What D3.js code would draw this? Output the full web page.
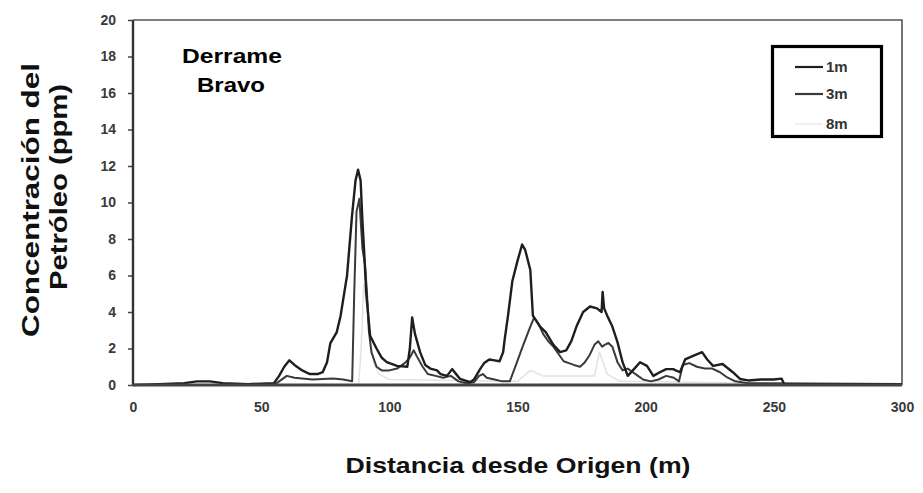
<!DOCTYPE html>
<html>
<head>
<meta charset="utf-8">
<script src="https://cdn.jsdelivr.net/npm/d3@7"></script>
<style>
  html, body { margin: 0; padding: 0; background: #fff; }
  svg { display: block; }
</style>
</head>
<body>
<svg id="chart" width="923" height="493"></svg>
<script>
// ---- data ----
const xTicks = [0, 50, 100, 150, 200, 250, 300];
const yTicks = [0, 2, 4, 6, 8, 10, 12, 14, 16, 18, 20];
const seriesNames = ["1m", "3m", "8m"];

const dist1m = [0, 10, 20, 25, 30, 35, 45, 55, 57, 59, 61, 63, 66, 69, 72, 74, 75.7, 77, 79.5, 81, 83.5, 85.4, 86.8, 87.8, 88.8, 89.5, 90.3, 91, 92.5, 95, 97, 99, 103, 107, 108, 108.9, 110, 112, 114, 116, 118.6, 120, 122.5, 124.5, 127.6, 131.5, 133, 135.4, 137, 139, 141, 143, 144.4, 145, 146.3, 148, 150, 151.8, 153, 155, 156, 158.8, 161, 164, 166.6, 169, 171, 173, 175.6, 178.3, 181, 182.8, 183.2, 183.8, 185, 187, 189, 191, 193, 195, 197.8, 200.5, 203, 205.5, 208, 210.7, 213.4, 215.4, 218.5, 222, 224, 226.3, 230, 234, 236.8, 240, 245, 250, 253, 254, 300];
const conc1m = [0, 0.05, 0.1, 0.2, 0.2, 0.1, 0.05, 0.1, 0.5, 1.0, 1.35, 1.1, 0.8, 0.6, 0.6, 0.7, 1.25, 2.3, 2.9, 3.8, 6.0, 9.2, 11.2, 11.8, 11.2, 9.0, 7.0, 5.0, 2.7, 2.0, 1.5, 1.25, 1.05, 1.0, 2.0, 3.7, 2.8, 1.8, 1.1, 0.9, 0.8, 0.6, 0.5, 0.87, 0.33, 0.15, 0.3, 0.87, 1.2, 1.4, 1.35, 1.3, 1.8, 2.5, 3.8, 5.7, 6.8, 7.7, 7.4, 6.3, 3.8, 3.2, 2.9, 2.2, 1.8, 1.9, 2.4, 3.2, 4.0, 4.3, 4.2, 4.0, 5.1, 4.2, 3.8, 3.2, 2.35, 1.25, 0.5, 0.8, 1.25, 1.05, 0.5, 0.7, 0.87, 0.87, 0.7, 1.4, 1.6, 1.8, 1.4, 1.05, 1.15, 0.7, 0.33, 0.25, 0.3, 0.3, 0.35, 0.05, 0.05];

const dist3m = [0, 55, 57, 60, 63, 70, 78, 82, 85.5, 86.3, 87.2, 88.3, 89.5, 90.5, 91.3, 92, 93, 95, 97, 100, 103, 106, 108, 109.5, 111, 113, 115, 118, 121, 124, 127, 130, 133, 135, 136.5, 138, 141, 144, 147, 149.8, 152, 155, 156.5, 158, 160, 162, 164, 166, 168, 170, 172, 174.4, 176, 178, 180, 181.5, 183, 184, 185.5, 187, 189, 191, 193, 195, 197, 199, 202, 205, 208, 211, 213, 214.5, 217, 220, 223, 226, 229, 232, 235, 240, 300];
const conc3m = [0, 0, 0.2, 0.5, 0.4, 0.3, 0.35, 0.3, 0.2, 5.0, 9.5, 10.2, 7.5, 6.6, 5.0, 3.0, 1.8, 1.0, 0.8, 0.8, 0.9, 1.2, 1.5, 1.9, 1.5, 1.0, 0.6, 0.5, 0.4, 0.5, 0.2, 0.1, 0.15, 0.5, 0.6, 0.4, 0.3, 0.2, 0.2, 1.25, 2.1, 3.2, 3.7, 3.4, 2.8, 2.4, 2.1, 1.7, 1.3, 1.2, 1.1, 1.0, 1.2, 1.6, 2.2, 2.4, 2.1, 2.2, 2.3, 2.1, 1.25, 0.8, 0.9, 0.7, 0.5, 0.3, 0.2, 0.3, 0.5, 0.4, 0.2, 1.1, 1.2, 1.0, 0.9, 0.9, 0.7, 0.4, 0.2, 0.1, 0.05];

const dist8m = [0, 88, 89, 90, 91, 92.5, 94, 96, 100, 150, 155, 160, 180, 182, 183, 185, 190, 300];
const conc8m = [0, 0, 2.0, 5.5, 4.5, 2.5, 1.2, 0.6, 0.3, 0.2, 0.8, 0.5, 0.5, 1.8, 1.4, 0.6, 0.2, 0];

const seriesDist = [dist1m, dist3m, dist8m];
const seriesConc = [conc1m, conc3m, conc8m];
const seriesColor = ["#1e1e1e", "#3a3a3a", "#e2e2e2"];
const seriesWidth = [2.4, 2.0, 1.5];

// ---- chart ----
const svg = d3.select("#chart");
const x = d3.scaleLinear().domain([0, 300]).range([133, 902]);
const y = d3.scaleLinear().domain([0, 20]).range([385, 20]);

// frame (top + right)
svg.append("path")
  .attr("d", `M${x(0)},${y(20)}H${x(300)}V${y(0)}`)
  .attr("fill", "none").attr("stroke", "#555").attr("stroke-width", 1.6);

// y axis
const yAxis = svg.append("g").attr("transform", `translate(${x(0)},0)`)
  .call(d3.axisLeft(y).tickValues(yTicks).tickSize(5).tickPadding(12));
yAxis.select(".domain").remove();
yAxis.selectAll(".tick line").attr("stroke", "#444").attr("stroke-width", 1.5);
yAxis.selectAll(".tick text")
  .attr("font-family", "'Liberation Sans', Arial, sans-serif")
  .attr("font-size", 14).attr("font-weight", "bold").attr("fill", "#3a3a3a");

// x axis
const xAxis = svg.append("g").attr("transform", `translate(0,${y(0)})`)
  .call(d3.axisBottom(x).tickValues(xTicks).tickSize(0).tickPadding(17));
xAxis.select(".domain").remove();
xAxis.selectAll(".tick text")
  .attr("font-family", "'Liberation Sans', Arial, sans-serif")
  .attr("font-size", 14).attr("font-weight", "bold").attr("fill", "#3a3a3a");

// series lines (light first so darker lines are on top)
const line = d3.line().x(d => x(d[0])).y(d => y(d[1])).curve(d3.curveLinear);
[2, 1, 0].forEach(i => {
  const pts = seriesDist[i].map((d, k) => [d, seriesConc[i][k]]);
  svg.append("path").datum(pts)
    .attr("d", line)
    .attr("fill", "none")
    .attr("stroke", seriesColor[i])
    .attr("stroke-width", seriesWidth[i])
    .attr("stroke-linejoin", "round");
});

// axis lines
svg.append("line").attr("x1", x(0)).attr("x2", x(0)).attr("y1", y(20)).attr("y2", y(0))
  .attr("stroke", "#333").attr("stroke-width", 2.4);
svg.append("line").attr("x1", x(0)).attr("x2", x(300)).attr("y1", y(0)).attr("y2", y(0))
  .attr("stroke", "#444").attr("stroke-width", 3);

// annotation
const ann = svg.append("g")
  .attr("font-family", "'Liberation Sans', Arial, sans-serif")
  .attr("font-weight", "bold").attr("fill", "#000").attr("text-anchor", "middle");
ann.append("text").attr("x", 232).attr("y", 63).attr("font-size", 21)
  .attr("textLength", 100).attr("lengthAdjust", "spacingAndGlyphs").text("Derrame");
ann.append("text").attr("x", 231).attr("y", 92).attr("font-size", 21)
  .attr("textLength", 68).attr("lengthAdjust", "spacingAndGlyphs").text("Bravo");

// legend
const leg = svg.append("g");
leg.append("rect").attr("x", 772.5).attr("y", 46.5).attr("width", 109).attr("height", 90)
  .attr("fill", "#fff").attr("stroke", "#000").attr("stroke-width", 3.2);
const legY = [67, 94, 124];
seriesNames.forEach((n, i) => {
  leg.append("line").attr("x1", 795).attr("x2", 823).attr("y1", legY[i]).attr("y2", legY[i])
    .attr("stroke", i === 2 ? "#f0f0f0" : seriesColor[i]).attr("stroke-width", 2.2);
  leg.append("text").attr("x", 826).attr("y", legY[i]).attr("dy", "0.36em")
    .attr("font-family", "'Liberation Sans', Arial, sans-serif")
    .attr("font-size", 15).attr("font-weight", "bold").attr("fill", "#333")
    .text(n);
});

// axis titles
const yt = svg.append("g")
  .attr("font-family", "'Liberation Sans', Arial, sans-serif")
  .attr("font-weight", "bold").attr("fill", "#111").attr("text-anchor", "middle");
yt.append("text").attr("transform", "translate(31,200) rotate(-90)").attr("dy", "0.36em")
  .attr("font-size", 23).attr("textLength", 274).attr("lengthAdjust", "spacingAndGlyphs")
  .text("Concentración del");
yt.append("text").attr("transform", "translate(59,187) rotate(-90)").attr("dy", "0.36em")
  .attr("font-size", 23).attr("textLength", 206).attr("lengthAdjust", "spacingAndGlyphs")
  .text("Petróleo (ppm)");

svg.append("text").attr("x", 518).attr("y", 465).attr("dy", "0.36em")
  .attr("text-anchor", "middle")
  .attr("font-family", "'Liberation Sans', Arial, sans-serif")
  .attr("font-weight", "bold").attr("font-size", 22).attr("fill", "#111")
  .attr("textLength", 345).attr("lengthAdjust", "spacingAndGlyphs")
  .text("Distancia desde Origen (m)");
</script>
</body>
</html>
